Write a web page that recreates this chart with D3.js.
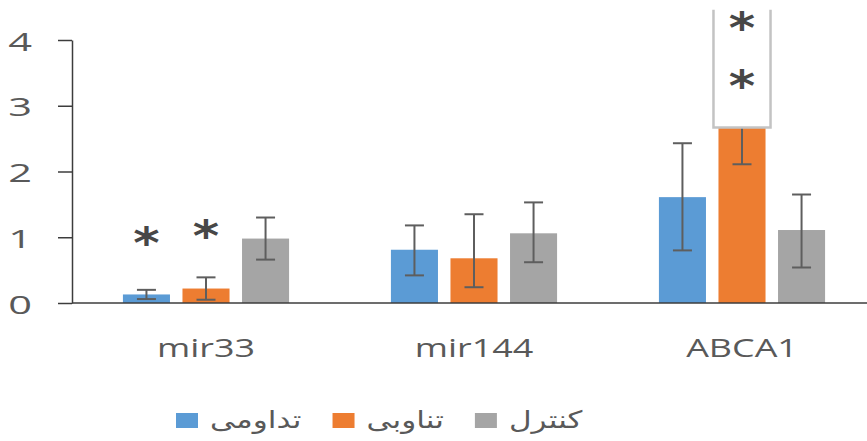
<!DOCTYPE html>
<html>
<head>
<meta charset="utf-8">
<script src="https://cdn.jsdelivr.net/npm/d3@7"></script>
<style>
  body { margin: 0; background: #fff; }
  svg { display: block; }
</style>
</head>
<body>
<svg id="chart" width="867" height="441"></svg>
<script>
// Gene expression by training group
const categories = ["mir33", "mir144", "ABCA1"];
const seriesNames = ["تداومی", "تناوبی", "کنترل"];
const seriesColors = ["#5b9bd5", "#ed7d31", "#a5a5a5"];

const continuousValues = [0.13, 0.81, 1.61];
const intervalValues   = [0.22, 0.68, 3.25];
const controlValues    = [0.98, 1.06, 1.11];

const continuousErrUp   = [0.07, 0.37, 0.82];
const continuousErrDown = [0.07, 0.39, 0.81];
const intervalErrUp     = [0.17, 0.67, 1.14];
const intervalErrDown   = [0.17, 0.44, 1.14];
const controlErrUp      = [0.32, 0.47, 0.54];
const controlErrDown    = [0.32, 0.44, 0.57];

const yTicks = [0, 1, 2, 3, 4];

// significance marks: category, series index, height in data units
const starMarks = [
  { cat: "mir33", s: 0, v: 0.91 },
  { cat: "mir33", s: 1, v: 1.01 },
  { cat: "ABCA1", s: 1, v: 4.17 },
  { cat: "ABCA1", s: 1, v: 3.30 }
];
// framed label box over the ABCA1 interval bar (data units)
const labelBox = { cat: "ABCA1", s: 1, from: 2.67, to: 4.46 };

const valueTable = [continuousValues, intervalValues, controlValues];
const upTable = [continuousErrUp, intervalErrUp, controlErrUp];
const downTable = [continuousErrDown, intervalErrDown, controlErrDown];

const rows = [];
categories.forEach((c, i) => {
  valueTable.forEach((vals, s) => {
    rows.push({ cat: c, s, v: vals[i], up: upTable[s][i], down: downTable[s][i] });
  });
});

const svg = d3.select("#chart");
const textColor = "#595959";
const axisColor = "#3c3c3c";

const y = d3.scaleLinear().domain([0, 4]).range([303, 40]);
const x0 = d3.scaleBand().domain(categories).range([72, 876])
  .paddingInner(0.38).paddingOuter(0.19);
const x1 = d3.scaleBand().domain([0, 1, 2]).range([0, x0.bandwidth()])
  .paddingInner(0.21).paddingOuter(0);

// bars
svg.append("g").selectAll("rect").data(rows).join("rect")
  .attr("x", d => x0(d.cat) + x1(d.s))
  .attr("y", d => y(d.v))
  .attr("width", x1.bandwidth())
  .attr("height", d => y(0) - y(d.v))
  .attr("fill", d => seriesColors[d.s]);

// error bars
const capW = 19;
const eb = svg.append("g").attr("stroke", "#5e5e5e").attr("stroke-width", 2);
rows.forEach(d => {
  const cx = x0(d.cat) + x1(d.s) + x1.bandwidth() / 2;
  const yt = y(d.v + d.up), yb = y(d.v - d.down);
  eb.append("line").attr("x1", cx).attr("x2", cx).attr("y1", yt).attr("y2", yb);
  eb.append("line").attr("x1", cx - capW / 2).attr("x2", cx + capW / 2).attr("y1", yt).attr("y2", yt);
  eb.append("line").attr("x1", cx - capW / 2).attr("x2", cx + capW / 2).attr("y1", yb).attr("y2", yb);
});

// label box (open at the top edge)
{
  const pad = 5;
  const bx0 = x0(labelBox.cat) + x1(labelBox.s) - pad;
  const bx1 = x0(labelBox.cat) + x1(labelBox.s) + x1.bandwidth() + pad;
  const by0 = y(labelBox.to), by1 = y(labelBox.from);
  svg.append("rect").attr("x", bx0).attr("y", by0 - 20)
    .attr("width", bx1 - bx0).attr("height", by1 - by0 + 20).attr("fill", "#fff");
  svg.append("path")
    .attr("d", `M${bx0},${by0}L${bx0},${by1}L${bx1},${by1}L${bx1},${by0}`)
    .attr("fill", "none").attr("stroke", "#c3c3c3").attr("stroke-width", 2.5);
}

// y axis
const yAxis = svg.append("g").attr("transform", "translate(72,0)")
  .call(d3.axisLeft(y).tickValues(yTicks).tickFormat(d3.format("d"))
    .tickSize(14).tickSizeOuter(0));
yAxis.select(".domain").attr("stroke", axisColor).attr("stroke-width", 1.5);
yAxis.selectAll(".tick line").attr("stroke", axisColor).attr("stroke-width", 1.5);
yAxis.selectAll(".tick text")
  .attr("x", 0).attr("dy", null)
  .attr("transform", "translate(-40,0) scale(1.6,1)")
  .attr("dominant-baseline", "central")
  .attr("fill", textColor)
  .style("font-family", "'Open Sans', sans-serif")
  .style("font-size", "26px");

// baseline
svg.append("line").attr("x1", 72).attr("x2", 867).attr("y1", y(0)).attr("y2", y(0))
  .attr("stroke", axisColor).attr("stroke-width", 1.5);

// category labels
svg.append("g").selectAll("text").data(categories).join("text")
  .attr("transform", d => `translate(${x0(d) + x0.bandwidth() / 2},357) scale(1.38,1)`)
  .attr("text-anchor", "middle")
  .attr("fill", textColor)
  .style("font-family", "'Open Sans', sans-serif")
  .style("font-size", "26px")
  .text(d => d);

// significance stars, centred on their anchor points
svg.append("g").selectAll("text").data(starMarks).join("text")
  .attr("text-anchor", "middle")
  .attr("fill", "#474747")
  .style("font-family", "'DejaVu Sans', sans-serif")
  .style("font-weight", "bold")
  .style("font-size", "42px")
  .text("*")
  .each(function (d) {
    const cx = x0(d.cat) + x1(d.s) + x1.bandwidth() / 2;
    const el = d3.select(this).attr("x", 0).attr("y", 0);
    const bb = this.getBBox();
    const dy = y(d.v) - (bb.y + bb.height / 2);
    el.attr("transform", `translate(${cx},${dy}) scale(1.2,1)`);
  });

// legend
{
  const lg = svg.append("g");
  let lx = 176;
  const sqW = 22, sqH = 15, sqY = 413, gap = 12, itemGap = 31;
  const sx = 1.3;
  seriesNames.forEach((name, i) => {
    lg.append("rect").attr("x", lx).attr("y", sqY).attr("width", sqW).attr("height", sqH)
      .attr("fill", seriesColors[i]);
    lx += sqW + gap;
    const t = lg.append("text")
      .attr("direction", "rtl")
      .attr("fill", textColor)
      .style("font-family", "'DejaVu Sans', sans-serif")
      .style("font-size", "24px")
      .text(name);
    const w = t.node().getComputedTextLength() * sx;
    t.attr("text-anchor", "middle")
      .attr("transform", `translate(${lx + w / 2},428) scale(${sx},1)`);
    lx += w + itemGap;
  });
}
</script>
</body>
</html>
